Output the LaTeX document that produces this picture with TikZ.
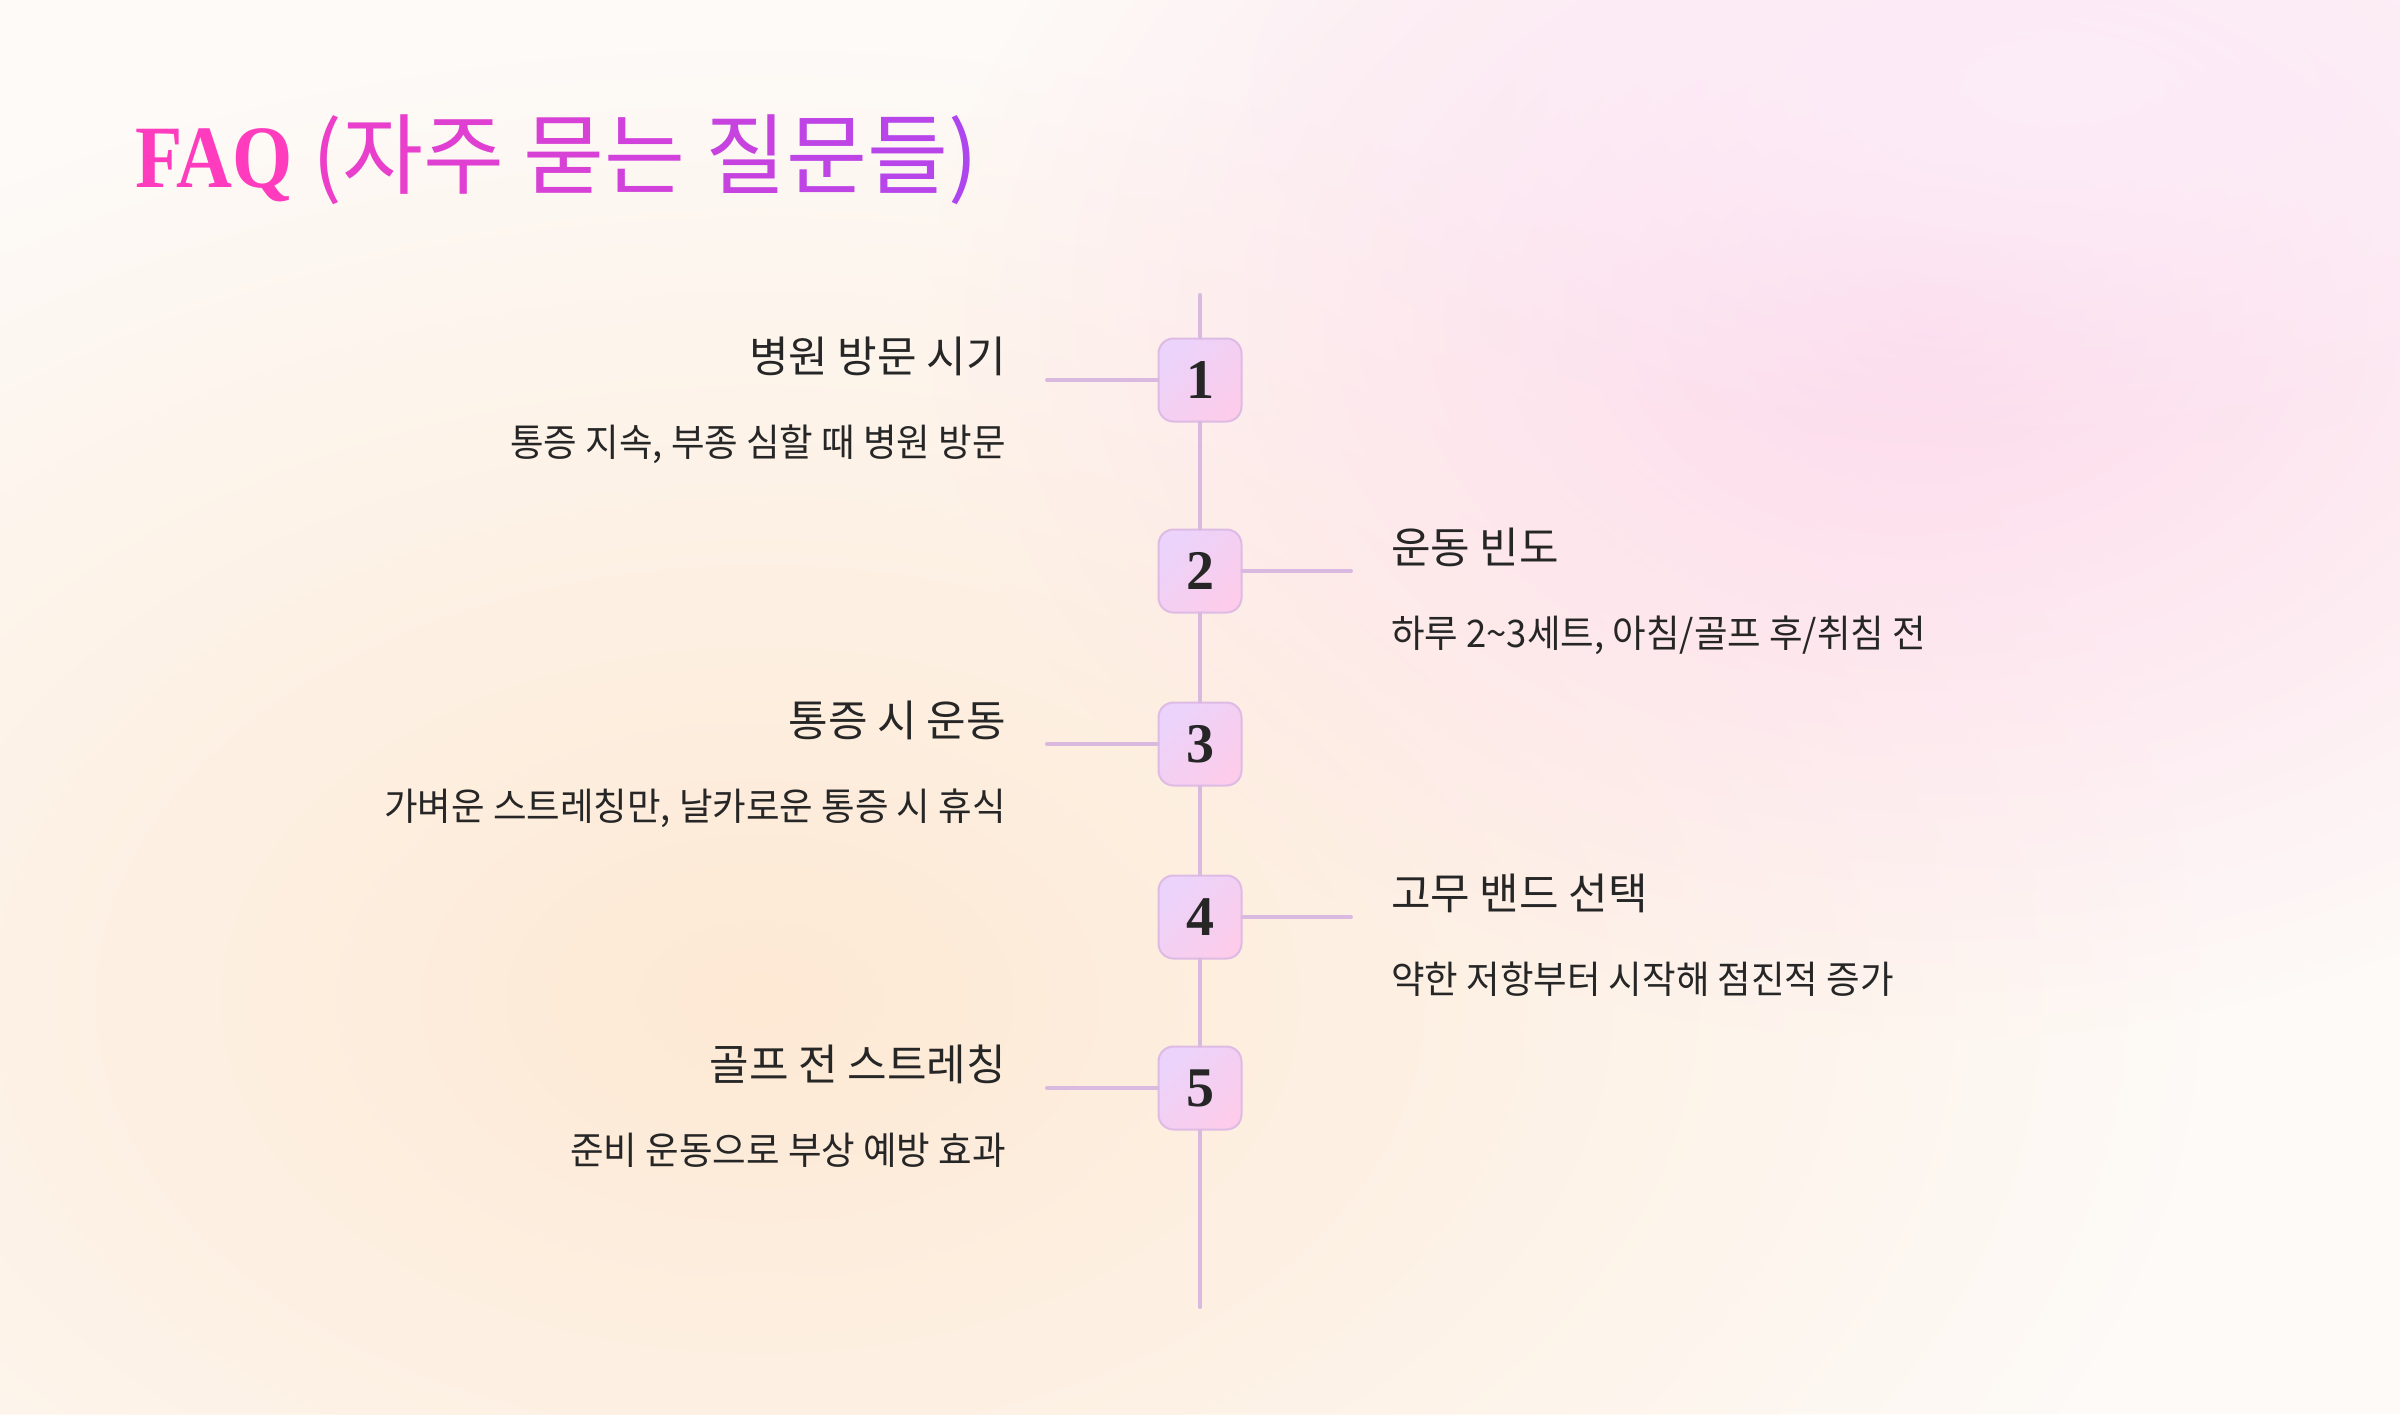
\documentclass[tikz,border=0pt]{standalone}
\usepackage{fontspec}
\setmainfont{Liberation Serif}
\newfontfamily\krt{Noto Sans CJK KR}
\newfontfamily\krd[FakeStretch=0.96]{Noto Sans CJK KR}
\newfontfamily\faqfont[FakeStretch=0.87]{Liberation Serif Bold}
\newfontfamily\numfont{Liberation Serif Bold}
\usetikzlibrary{fadings}
\definecolor{bgbase}{HTML}{FEFAF7}
\definecolor{peachB}{HTML}{FDE9D4}
\definecolor{pinkB}{HTML}{FDDAEC}
\definecolor{lavB}{HTML}{FCEDF9}
\definecolor{pinkT}{HTML}{FF3CBE}
\definecolor{purpT}{HTML}{AC46F0}
\definecolor{lineC}{HTML}{DAB9E1}
\definecolor{boxBorder}{HTML}{DDBBE4}
\definecolor{boxA}{HTML}{EBD3FB}
\definecolor{boxB}{HTML}{FCCCEA}
\definecolor{txt}{HTML}{262626}
\tikzfading[name=blobfade, inner color=transparent!0, outer color=transparent!100]
\tikzset{
  conn/.style={draw=lineC, line width=4pt, line cap=round},
  numbox/.style={draw=boxBorder, line width=2pt, rounded corners=15pt,
    minimum size=83pt, inner sep=0pt, top color=boxA, bottom color=boxB,
    shading angle=45, text=txt, font=\numfont\fontsize{56}{60}\selectfont},
  ttl/.style={inner sep=0pt, text=txt, font=\krt\fontsize{43}{50}\selectfont},
  dsc/.style={inner sep=0pt, text=txt, font=\krd\fontsize{38}{45}\selectfont},
}
\begin{document}
\begin{tikzpicture}[x=1pt, y=1pt]
\useasboundingbox (0,0) rectangle (2400,-1414);
\clip (0,0) rectangle (2400,-1414);
% background
\fill[bgbase] (0,0) rectangle (2400,-1414);
\fill[peachB, path fading=blobfade] (760,-1000) ellipse [x radius=1450, y radius=950];
\fill[pinkB, path fading=blobfade] (1930,-320) ellipse [x radius=1000, y radius=720];
\fill[lavB, path fading=blobfade] (2050,-90) ellipse [x radius=800, y radius=360];
% title
\node[anchor=base west, inner sep=0pt] (title) at (135,-187)
  {{\faqfont\fontsize{89}{95}\selectfont\color{pinkT}FAQ}{\krt\fontsize{88}{96}\selectfont\ \textcolor{purpT!23!pinkT}{(}\textcolor{purpT!28!pinkT}{자}\textcolor{purpT!37!pinkT}{주} \textcolor{purpT!48!pinkT}{묻}\textcolor{purpT!57!pinkT}{는} \textcolor{purpT!69!pinkT}{질}\textcolor{purpT!78!pinkT}{문}\textcolor{purpT!87!pinkT}{들}\textcolor{purpT!98!pinkT}{)}}};
% timeline boxes
\coordinate (vtop) at (1200,-295);
\coordinate (vbot) at (1200,-1307);
\node[numbox] (b1) at (1200,-380) {1};
\node[numbox] (b2) at (1200,-571) {2};
\node[numbox] (b3) at (1200,-744) {3};
\node[numbox] (b4) at (1200,-917) {4};
\node[numbox] (b5) at (1200,-1088) {5};
\draw[conn] (vtop) -- (b1.north);
\draw[conn] (b1.south) -- (b2.north);
\draw[conn] (b2.south) -- (b3.north);
\draw[conn] (b3.south) -- (b4.north);
\draw[conn] (b4.south) -- (b5.north);
\draw[conn] (b5.south) -- (vbot);
% side connectors
\coordinate (c1) at (1047,-380);
\coordinate (c2) at (1351,-571);
\coordinate (c3) at (1047,-744);
\coordinate (c4) at (1351,-917);
\coordinate (c5) at (1047,-1088);
\draw[conn] (b1.west) -- (c1);
\draw[conn] (b2.east) -- (c2);
\draw[conn] (b3.west) -- (c3);
\draw[conn] (b4.east) -- (c4);
\draw[conn] (b5.west) -- (c5);
% texts
\node[ttl, anchor=base east] (t1) at (1006,-372) {병원 방문 시기};
\node[dsc, anchor=base east] (d1) at (1006,-456) {통증 지속, 부종 심할 때 병원 방문};
\node[ttl, anchor=base west] (t2) at (1391,-563) {운동 빈도};
\node[dsc, anchor=base west] (d2) at (1391,-647) {하루 2\textasciitilde3세트, 아침/골프 후/취침 전};
\node[ttl, anchor=base east] (t3) at (1006,-736) {통증 시 운동};
\node[dsc, anchor=base east] (d3) at (1006,-820) {가벼운 스트레칭만, 날카로운 통증 시 휴식};
\node[ttl, anchor=base west] (t4) at (1391,-909) {고무 밴드 선택};
\node[dsc, anchor=base west] (d4) at (1391,-993) {약한 저항부터 시작해 점진적 증가};
\node[ttl, anchor=base east] (t5) at (1006,-1080) {골프 전 스트레칭};
\node[dsc, anchor=base east] (d5) at (1006,-1164) {준비 운동으로 부상 예방 효과};
\end{tikzpicture}
\end{document}
